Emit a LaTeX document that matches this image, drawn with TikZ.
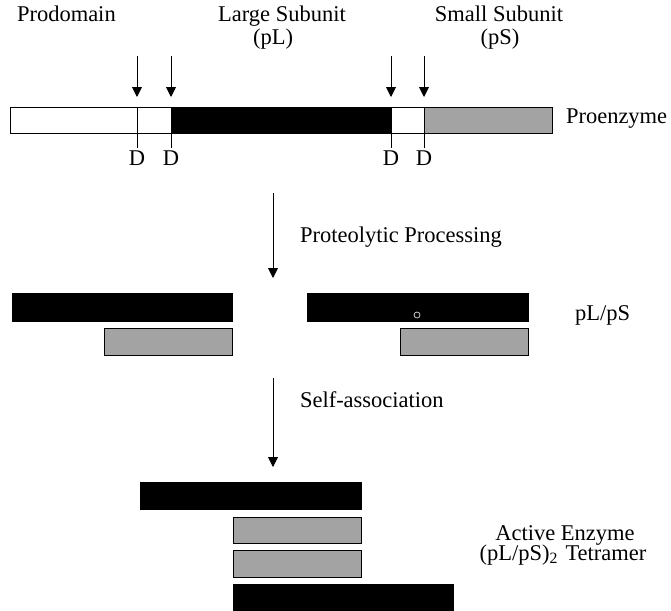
\documentclass[tikz,border=0pt]{standalone}
\usepackage{fontspec}
\setmainfont{Liberation Serif}
\usetikzlibrary{arrows.meta}
\definecolor{barGray}{RGB}{163,163,163}
\begin{document}
\begin{tikzpicture}[x=1pt,y=-1pt,
  bar/.style={draw=black, line width=0.9pt, inner sep=0pt, outer sep=0pt, anchor=north west},
  blackbar/.style={bar, fill=black},
  graybar/.style={bar, fill=barGray},
  whitebar/.style={bar, fill=white},
  lbl/.style={font=\fontsize{22.5}{20}\selectfont, inner sep=0pt, outer sep=0pt},
  arr/.style={line width=0.9pt, -{Triangle[width=10pt,length=10pt]}},
  tickline/.style={line width=0.9pt}
]
\useasboundingbox (0,0) rectangle (671,610);

% top labels
\node[lbl, anchor=base west] (prod) at (17,22) {Prodomain};
\node[lbl, anchor=base] (large) at (282,22) {Large Subunit};
\node[lbl, anchor=base] (pl) at (273,45) {(pL)};
\node[lbl, anchor=base] (small) at (499,22) {Small Subunit};
\node[lbl, anchor=base] (ps) at (500,45) {(pS)};

% proenzyme bar
\node[whitebar, minimum width=161pt, minimum height=26pt] (pro) at (10,107) {};
\node[blackbar, minimum width=220pt, minimum height=26pt] (large1) at (171,107) {};
\node[whitebar, minimum width=33pt, minimum height=26pt] (link) at (391,107) {};
\node[graybar, minimum width=128pt, minimum height=26pt] (small1) at (424,107) {};
\node[lbl, anchor=base west] (proenz) at (566,123) {Proenzyme};

% cleavage arrows and ticks
\foreach \i/\x in {1/137,2/171,3/391,4/424}{
  \coordinate (as\i) at (\x,56);
  \coordinate (ae\i) at (\x,97);
  \coordinate (ts\i) at (\x,107);
  \coordinate (te\i) at (\x,148);
  \draw[arr] (as\i) -- (ae\i);
  \draw[tickline] (ts\i) -- (te\i);
  \node[lbl, anchor=base] (d\i) at (\x,165) {D};
}

% processing arrow
\coordinate (p1s) at (273,193);
\coordinate (p1e) at (273,278);
\draw[arr] (p1s) -- (p1e);
\node[lbl, anchor=base west] (proc) at (300,242) {Proteolytic Processing};

% pL/pS row
\node[blackbar, minimum width=220pt, minimum height=28pt] (lA) at (12,293) {};
\node[graybar, minimum width=128pt, minimum height=27pt] (sA) at (104,328) {};
\node[blackbar, minimum width=221pt, minimum height=28pt] (lB) at (307,293) {};
\node[graybar, minimum width=128pt, minimum height=27pt] (sB) at (400,328) {};
\node[circle, draw=white!80!black, fill=black, line width=0.8pt, minimum size=6pt, inner sep=0pt] (dot) at (417,315) {};
\node[lbl, anchor=base west] (plps) at (575,320) {pL/pS};

% self-association arrow
\coordinate (p2s) at (273,378);
\coordinate (p2e) at (273,467);
\draw[arr] (p2s) -- (p2e);
\node[lbl, anchor=base west] (self) at (300,407) {Self-association};

% tetramer
\node[blackbar, minimum width=221pt, minimum height=27pt] (tL1) at (140,482) {};
\node[graybar, minimum width=128pt, minimum height=26pt] (tS1) at (233,517) {};
\node[graybar, minimum width=128pt, minimum height=27pt] (tS2) at (233,550) {};
\node[blackbar, minimum width=220pt, minimum height=26pt] (tL2) at (233,584) {};
\node[lbl, anchor=base] (act) at (565,540) {Active Enzyme};
\node[lbl, anchor=base] (tet) at (563,560) {(pL/pS)\textsubscript{2}\,\,Tetramer};
\end{tikzpicture}
\end{document}
